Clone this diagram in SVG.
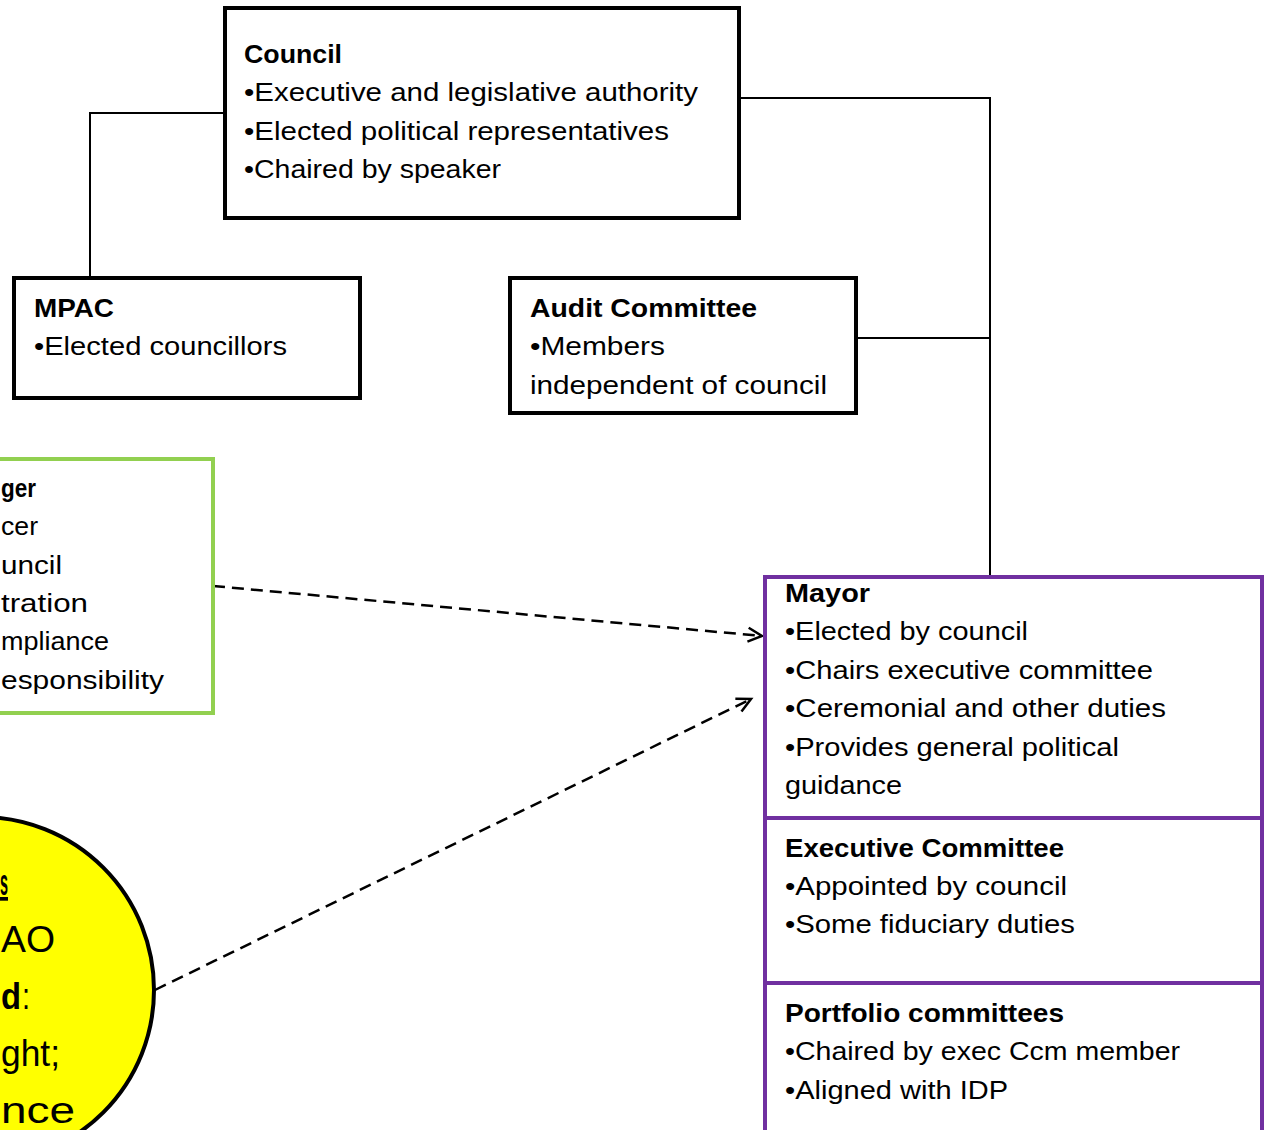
<svg xmlns="http://www.w3.org/2000/svg" width="1265" height="1130" viewBox="0 0 1265 1130">
  <style>
    .box { fill: #ffffff; stroke: #000000; stroke-width: 4; }
    .green { fill: #ffffff; stroke: #92D050; stroke-width: 4; }
    .purple { fill: #ffffff; stroke: #7030A0; stroke-width: 4; }
    .circle { fill: #FFFF00; stroke: #000000; stroke-width: 4; }
    .t { font-family: "Liberation Sans", Arial, sans-serif; font-size: 25px; fill: #000000; }
    .b { font-weight: bold; }
    .big { font-family: "Liberation Sans", Arial, sans-serif; font-size: 37px; fill: #000000; }
    .link { fill: none; stroke: #000000; stroke-width: 2; }
    .dash { fill: none; stroke: #000000; stroke-width: 2.5; stroke-dasharray: 12 7; }
  </style>
  <defs>
    <marker id="open" markerUnits="userSpaceOnUse" markerWidth="20" markerHeight="20" viewBox="0 0 20 20" refX="17" refY="10" orient="auto">
      <path d="M3,3 L17,10 L3,17" fill="none" stroke="#000000" stroke-width="2.5"/>
    </marker>
  </defs>
  <rect width="1265" height="1130" fill="#ffffff"/>

  <!-- connectors -->
  <g id="connectors">
    <polyline class="link" points="225,113 90,113 90,278"/>
    <polyline class="link" points="739,98 990,98 990,577"/>
    <line class="link" x1="856" y1="338" x2="990" y2="338"/>
    <line class="dash" x1="213" y1="586" x2="762" y2="636" marker-end="url(#open)"/>
    <line class="dash" x1="155" y1="990" x2="751" y2="699" marker-end="url(#open)"/>
  </g>

  <!-- Council -->
  <g id="council">
    <rect class="box" x="225" y="8" width="514" height="210"/>
    <text class="t b" x="244" y="63" textLength="98" lengthAdjust="spacingAndGlyphs">Council</text>
    <text class="t" x="244" y="101" textLength="454" lengthAdjust="spacingAndGlyphs">•Executive and legislative authority</text>
    <text class="t" x="244" y="140" textLength="425" lengthAdjust="spacingAndGlyphs">•Elected political representatives</text>
    <text class="t" x="244" y="178" textLength="257" lengthAdjust="spacingAndGlyphs">•Chaired by speaker</text>
  </g>

  <!-- MPAC -->
  <g id="mpac">
    <rect class="box" x="14" y="278" width="346" height="120"/>
    <text class="t b" x="34" y="317" textLength="80" lengthAdjust="spacingAndGlyphs">MPAC</text>
    <text class="t" x="34" y="355" textLength="253" lengthAdjust="spacingAndGlyphs">•Elected councillors</text>
  </g>

  <!-- Audit Committee -->
  <g id="audit">
    <rect class="box" x="510" y="278" width="346" height="135"/>
    <text class="t b" x="530" y="317" textLength="227" lengthAdjust="spacingAndGlyphs">Audit Committee</text>
    <text class="t" x="530" y="355" textLength="135" lengthAdjust="spacingAndGlyphs">•Members</text>
    <text class="t" x="530" y="394" textLength="297" lengthAdjust="spacingAndGlyphs">independent of council</text>
  </g>

  <!-- Municipal manager (green) -->
  <g id="manager">
    <rect class="green" x="-10" y="459" width="223" height="254"/>
    <text class="t b" x="1" y="497" textLength="35" lengthAdjust="spacingAndGlyphs">ger</text>
    <text class="t" x="1" y="535" textLength="37" lengthAdjust="spacingAndGlyphs">cer</text>
    <text class="t" x="1" y="574" textLength="61" lengthAdjust="spacingAndGlyphs">uncil</text>
    <text class="t" x="1" y="612" textLength="87" lengthAdjust="spacingAndGlyphs">tration</text>
    <text class="t" x="1" y="650" textLength="108" lengthAdjust="spacingAndGlyphs">mpliance</text>
    <text class="t" x="1" y="689" textLength="163" lengthAdjust="spacingAndGlyphs">esponsibility</text>
  </g>

  <!-- Yellow circle -->
  <g id="circle">
    <circle class="circle" cx="-19" cy="990" r="173"/>
    <text class="big b" x="0" y="895" textLength="8" lengthAdjust="spacingAndGlyphs" text-decoration="underline">s</text>
    <text class="big" x="1" y="952" textLength="54" lengthAdjust="spacingAndGlyphs">AO</text>
    <text class="big b" x="1" y="1009" textLength="20" lengthAdjust="spacingAndGlyphs">d</text>
    <text class="big" x="22" y="1009" textLength="8" lengthAdjust="spacingAndGlyphs">:</text>
    <text class="big" x="1" y="1066" textLength="59" lengthAdjust="spacingAndGlyphs">ght;</text>
    <text class="big" x="1" y="1123" textLength="74" lengthAdjust="spacingAndGlyphs">nce</text>
  </g>

  <!-- Mayor -->
  <g id="mayor">
    <rect class="purple" x="765" y="577" width="497" height="241"/>
    <text class="t b" x="785" y="602" textLength="85" lengthAdjust="spacingAndGlyphs">Mayor</text>
    <text class="t" x="785" y="640" textLength="243" lengthAdjust="spacingAndGlyphs">•Elected by council</text>
    <text class="t" x="785" y="679" textLength="368" lengthAdjust="spacingAndGlyphs">•Chairs executive committee</text>
    <text class="t" x="785" y="717" textLength="381" lengthAdjust="spacingAndGlyphs">•Ceremonial and other duties</text>
    <text class="t" x="785" y="756" textLength="334" lengthAdjust="spacingAndGlyphs">•Provides general political</text>
    <text class="t" x="785" y="794" textLength="117" lengthAdjust="spacingAndGlyphs">guidance</text>
  </g>

  <!-- Executive Committee -->
  <g id="exec">
    <rect class="purple" x="765" y="818" width="497" height="165"/>
    <text class="t b" x="785" y="857" textLength="279" lengthAdjust="spacingAndGlyphs">Executive Committee</text>
    <text class="t" x="785" y="895" textLength="282" lengthAdjust="spacingAndGlyphs">•Appointed by council</text>
    <text class="t" x="785" y="933" textLength="290" lengthAdjust="spacingAndGlyphs">•Some fiduciary duties</text>
  </g>

  <!-- Portfolio committees -->
  <g id="portfolio">
    <rect class="purple" x="765" y="983" width="497" height="170"/>
    <text class="t b" x="785" y="1022" textLength="279" lengthAdjust="spacingAndGlyphs">Portfolio committees</text>
    <text class="t" x="785" y="1060" textLength="395" lengthAdjust="spacingAndGlyphs">•Chaired by exec Ccm member</text>
    <text class="t" x="785" y="1099" textLength="223" lengthAdjust="spacingAndGlyphs">•Aligned with IDP</text>
  </g>
</svg>
